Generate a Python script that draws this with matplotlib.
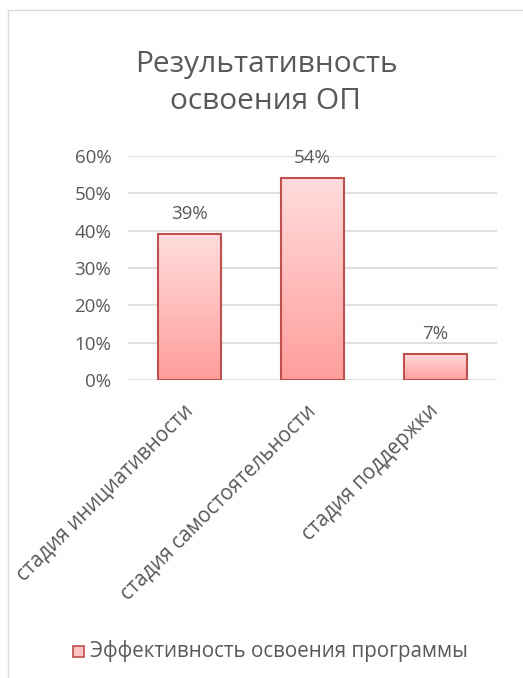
import matplotlib
matplotlib.use("Agg")
import matplotlib.pyplot as plt
import numpy as np
from matplotlib.patches import Rectangle
from matplotlib.colors import LinearSegmentedColormap

plt.rcParams['font.family'] = ['Open Sans', 'DejaVu Sans']

# данные
categories = ["стадия инициативности", "стадия самостоятельности", "стадия поддержки"]
values = [0.39, 0.54, 0.07]
value_labels = ["39%", "54%", "7%"]
yticks = [0.0, 0.1, 0.2, 0.3, 0.4, 0.5, 0.6]
ytick_labels = ["0%", "10%", "20%", "30%", "40%", "50%", "60%"]
series_name = "Эффективность освоения программы"
title = "Результативность\nосвоения ОП"

gray = "#595959"
edge = "#C0504D"
grad = LinearSegmentedColormap.from_list("g", ["#FF9E9C", "#FFDCDC"])
fs_num = 13.5   # цифры
fs_txt = 14.8   # подписи кириллицей

fig = plt.figure(figsize=(5.23, 6.78), dpi=100)
# рамка диаграммы
fig.add_artist(Rectangle((8 / 523, -0.1), 1.2, 1 - 10 / 678 + 0.1,
                         transform=fig.transFigure, fill=False,
                         edgecolor="#D9D9D9", linewidth=1))

ax = fig.add_axes([128 / 523, 1 - 380 / 678, (497 - 128) / 523, (380 - 156) / 678])
ax.set_xlim(-0.5, 2.5)
ax.set_ylim(0, 0.6)

for y in yticks:
    ax.axhline(y, color="#D9D9D9", linewidth=1.2, zorder=0)

w = 0.51
xs = np.arange(len(categories))
bars = ax.bar(xs, values, width=w, color="none", edgecolor=edge, linewidth=1.5, zorder=3)
g = np.linspace(0, 1, 256).reshape(-1, 1)
for b in bars:
    x0, y0 = b.get_x(), b.get_y()
    im = ax.imshow(g, cmap=grad, aspect="auto", origin="lower",
                   extent=[x0, x0 + b.get_width(), y0, y0 + b.get_height()], zorder=2)
    im.set_clip_path(b)

for x, v, lab in zip(xs, values, value_labels):
    ax.text(x, v + 0.03, lab, ha="center", va="bottom", fontsize=fs_num, color=gray)

ax.set_yticks(yticks)
ax.set_yticklabels(ytick_labels, fontsize=fs_num, color=gray)
ax.set_xticks(xs)
ax.set_xticklabels(categories, rotation=45, ha="right", va="center",
                   rotation_mode="anchor", fontsize=fs_txt, color=gray)
ax.tick_params(length=0)
ax.tick_params(axis="y", pad=12)
ax.tick_params(axis="x", pad=20)
for s in ax.spines.values():
    s.set_visible(False)
ax.set_facecolor("none")

fig.text(266 / 523, 1 - 83 / 678, title, ha="center", va="center",
         fontsize=21.5, color=gray, linespacing=1.32)

# легенда
fig.add_artist(Rectangle((73 / 523, 1 - 657 / 678), 11 / 523, 11 / 678,
                         transform=fig.transFigure, facecolor="#FFC4C4",
                         edgecolor=edge, linewidth=1.2))
fig.text(90 / 523, 1 - 651 / 678, series_name, ha="left", va="center",
         fontsize=fs_txt, color=gray)

fig.savefig("out.png", dpi=100)
